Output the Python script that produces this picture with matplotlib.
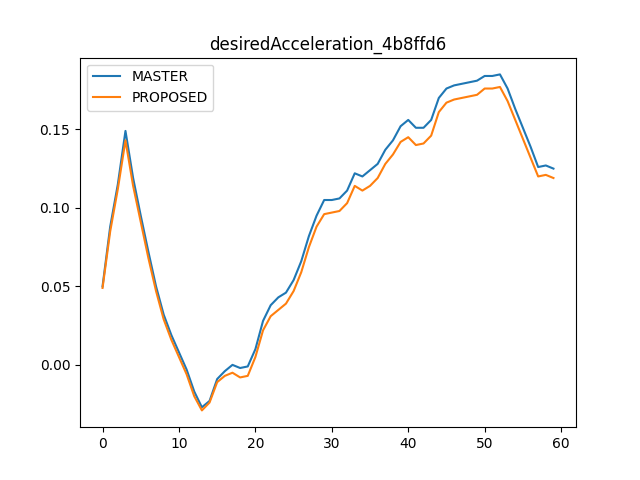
import numpy as np
import matplotlib
matplotlib.use("Agg")
import matplotlib.pyplot as plt

# values
master = [0.050, 0.088, 0.115, 0.149, 0.119, 0.095, 0.072, 0.050, 0.032, 0.019,
          0.008, -0.003, -0.017, -0.027, -0.023, -0.009, -0.004, 0.000, -0.002, -0.001,
          0.010, 0.028, 0.038, 0.043, 0.046, 0.054, 0.066, 0.082, 0.095, 0.105,
          0.105, 0.106, 0.111, 0.122, 0.120, 0.124, 0.128, 0.137, 0.143, 0.152,
          0.156, 0.151, 0.151, 0.156, 0.170, 0.176, 0.178, 0.179, 0.180, 0.181,
          0.184, 0.184, 0.185, 0.176, 0.163, 0.151, 0.139, 0.126, 0.127, 0.125]
proposed = [0.049, 0.085, 0.112, 0.143, 0.114, 0.091, 0.068, 0.047, 0.029, 0.016,
            0.005, -0.006, -0.020, -0.029, -0.024, -0.011, -0.007, -0.005, -0.008, -0.007,
            0.005, 0.022, 0.031, 0.035, 0.039, 0.047, 0.059, 0.075, 0.088, 0.096,
            0.097, 0.098, 0.103, 0.114, 0.111, 0.114, 0.119, 0.128, 0.134, 0.142,
            0.145, 0.140, 0.141, 0.146, 0.161, 0.167, 0.169, 0.170, 0.171, 0.172,
            0.176, 0.176, 0.177, 0.168, 0.156, 0.144, 0.132, 0.120, 0.121, 0.119]
steps = np.arange(len(master))

fig, ax = plt.subplots(figsize=(6.4, 4.8), dpi=100)
ax.plot(steps, master, label="MASTER")
ax.plot(steps, proposed, label="PROPOSED")
ax.set_title("desiredAcceleration_4b8ffd6")
ax.legend(loc="upper left")
fig.savefig("out.png")
